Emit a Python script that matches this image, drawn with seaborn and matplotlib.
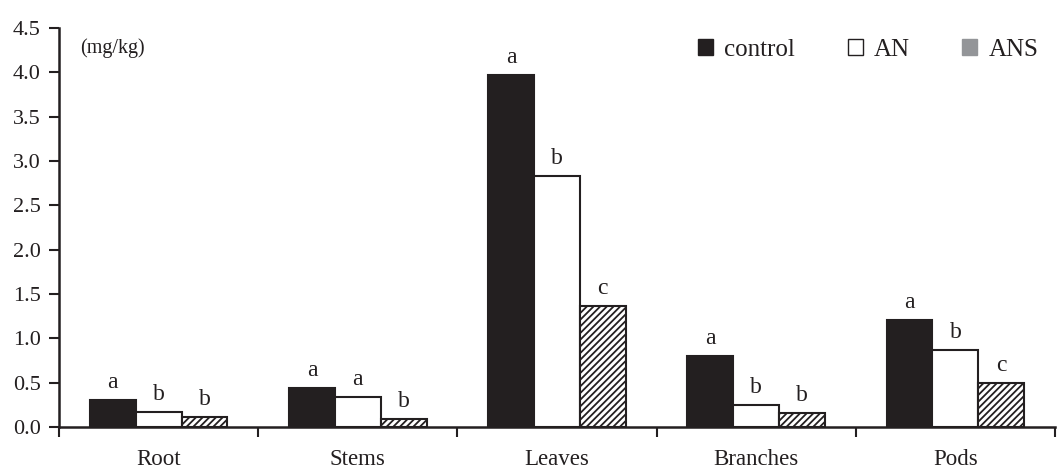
import matplotlib
matplotlib.use("Agg")
import matplotlib.pyplot as plt
from matplotlib.patches import Patch
import seaborn as sns
import pandas as pd
import numpy as np

categories = ["Root", "Stems", "Leaves", "Branches", "Pods"]
treatments = ["control", "AN", "ANS"]
control = [0.31, 0.44, 3.97, 0.80, 1.21]
an = [0.17, 0.34, 2.83, 0.25, 0.87]
ans = [0.11, 0.09, 1.37, 0.16, 0.50]
letters_control = ["a", "a", "a", "a", "a"]
letters_an = ["b", "a", "b", "b", "b"]
letters_ans = ["b", "b", "c", "b", "c"]
yticks = [0.0, 0.5, 1.0, 1.5, 2.0, 2.5, 3.0, 3.5, 4.0, 4.5]

df = pd.DataFrame({
    "part": categories * 3,
    "treatment": [t for t in treatments for _ in categories],
    "value": control + an + ans,
})

sns.set_theme(style="ticks")
plt.rcParams["font.family"] = ["Liberation Serif", "DejaVu Serif"]
plt.rcParams["hatch.linewidth"] = 1.3
plt.rcParams["hatch.color"] = "#231f20"

fig = plt.figure(figsize=(10.59, 4.71), dpi=100)
ax = fig.add_axes([59 / 1059, 44 / 471, 996 / 1059, 399 / 471])

sns.barplot(data=df, x="part", y="value", hue="treatment", order=categories,
            hue_order=treatments, palette=["#231f20", "white", "white"],
            width=0.69, saturation=1, edgecolor="#231f20", linewidth=1.5,
            legend=False, ax=ax)

for bar in ax.containers[2]:
    bar.set_hatch("/////")

dark = "#231f20"
for cont, labels in zip(ax.containers, [letters_control, letters_an, letters_ans]):
    for bar, lab in zip(cont, labels):
        ax.annotate(lab, (bar.get_x() + bar.get_width() / 2, bar.get_height()),
                    xytext=(0, 5), textcoords="offset points",
                    ha="center", va="bottom", fontsize=17, color=dark)

ax.set_xlim(-0.5, len(categories) - 0.5)
ax.set_ylim(0, 4.5)
ax.set_yticks(yticks)
ax.set_yticklabels([f"{v:.1f}" for v in yticks], fontsize=16, color=dark)

# category boundaries as ticks, names centred between them
ax.set_xticks(np.arange(-0.5, len(categories), 1.0))
ax.set_xticklabels([])
ax.set_xticks(np.arange(len(categories)), minor=True)
ax.set_xticklabels(categories, minor=True, fontsize=16.5, color=dark)
ax.tick_params(axis="x", which="major", length=7, width=1.5, color=dark, direction="out")
ax.tick_params(axis="x", which="minor", length=0, pad=16)
ax.tick_params(axis="y", length=7, width=1.5, color=dark, direction="out", pad=6)

ax.set_xlabel("")
ax.set_ylabel("")
for side in ["top", "right"]:
    ax.spines[side].set_visible(False)
for side in ["left", "bottom"]:
    ax.spines[side].set_linewidth(1.8)
    ax.spines[side].set_color(dark)

ax.text(0.021, 0.975, "(mg/kg)", transform=ax.transAxes, fontsize=14.5,
        color=dark, va="top", ha="left")

handles = [Patch(facecolor=dark, edgecolor=dark),
           Patch(facecolor="white", edgecolor=dark, linewidth=1.0),
           Patch(facecolor="#939598", edgecolor="#939598", hatch=None)]
ax.legend(handles, treatments, loc="upper right", bbox_to_anchor=(1.006, 1.03),
          ncol=3, frameon=False, fontsize=18, handlelength=0.6,
          handleheight=0.6, handletextpad=0.45, columnspacing=2.1,
          labelcolor=dark)

fig.savefig("out.png", dpi=100)
